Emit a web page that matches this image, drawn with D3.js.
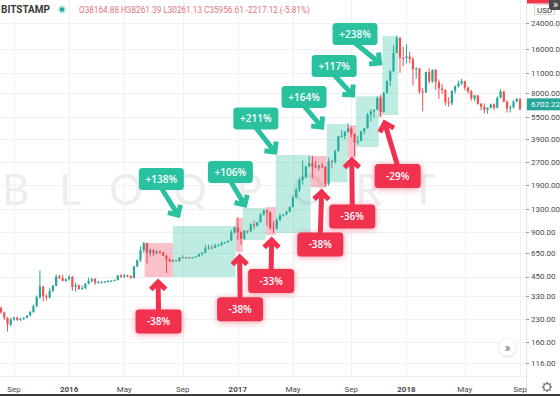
<!DOCTYPE html>
<html>
<head>
<meta charset="utf-8">
<script src="https://cdn.jsdelivr.net/npm/d3@7"></script>
<style>
  html, body { margin: 0; padding: 0; background: #fff; }
  svg { display: block; font-family: Roboto, "Open Sans", sans-serif; }
</style>
</head>
<body>
<svg id="chart" width="560" height="396"></svg>
<script>
// weekly BTC candles (Bitstamp), first bar = week of 2015-08-10
const firstWeek = "2015-08-10";
const opens = [275,256,236,212,230,236,228,232,236,244,258,282,325,385,330,325,360,390,450,440,
  420,432,448,382,392,370,375,403,420,434,410,412,414,416,420,421,426,458,449,460,
  455,441,528,580,680,760,655,680,650,665,655,625,590,570,580,574,608,607,609,601,
  608,617,640,655,700,710,705,732,735,765,772,790,900,970,900,815,922,915,1020,995,
  1055,1190,1270,1230,970,960,1090,1170,1190,1245,1340,1550,1750,2050,2150,2540,2660,2530,2500,2560,
  2510,1930,2750,2720,3220,4060,4090,4370,4580,4220,3690,3780,4390,4600,5700,6000,6140,7400,5950,8030,
  9700,11250,15000,19050,13900,13850,14200,13600,11600,11750,8200,8100,11100,9600,11500,9500,8600,8400,6900,6800,
  8300,8900,9300,9650,8700,8200,7350,7700,6750,6450,6150,6350,6700,6350,7400,8200,7000,6300,6400,7000,
  7300];
const highs = [282,260,238,236,240,240,236,238,246,262,290,335,495,390,342,375,395,465,465,462,
  438,460,455,410,398,392,405,442,440,440,422,420,420,425,425,430,462,468,466,464,
  458,532,590,720,775,765,700,690,680,680,665,630,600,590,588,610,630,612,612,610,
  620,645,660,740,740,740,752,750,780,776,792,935,990,1140,920,935,930,1040,1080,1060,
  1210,1290,1290,1250,1070,1130,1210,1200,1260,1350,1620,1800,2100,2780,2560,2980,3000,2770,2600,2660,
  2540,2900,2810,3300,4100,4480,4400,4980,4700,4250,4100,4400,4620,5850,6200,6200,7600,7780,8100,9700,
  11400,16900,19700,19200,16500,17200,15300,14100,12000,11900,8650,11200,11800,11600,11700,9900,9200,8500,7500,8300,
  9000,9750,9990,9700,8900,8400,7800,7770,6850,6800,6400,6800,6800,7600,8500,8300,7150,6600,7150,7400,
  7400];
const lows = [252,228,190,206,226,224,224,228,234,242,255,280,318,305,310,318,352,385,432,418,
  415,424,360,355,365,365,370,398,412,395,404,405,408,410,415,418,424,440,440,445,
  435,438,520,565,655,550,615,620,640,645,620,475,565,565,570,568,600,600,592,598,
  605,615,625,650,685,690,700,724,730,752,765,785,880,800,740,800,880,910,940,985,
  1050,1170,1000,940,890,930,1080,1150,1180,1240,1330,1545,1690,1900,2100,2500,2100,2450,2380,2460,
  1840,1870,2450,2650,3200,3990,3870,4300,4000,2970,3570,3770,4200,4600,5100,5400,6120,5550,5870,7900,
  8900,11150,15000,11000,12200,12750,12800,9000,10000,7900,6000,8000,9300,9400,8400,7300,7900,6600,6450,6600,
  7900,8700,9100,8330,7900,7100,7030,6650,6100,5800,5780,6300,6100,6300,7400,6900,5900,5900,6300,6900,
  6100];
const closes = [256,236,212,230,236,228,232,236,244,258,282,325,385,330,325,360,390,450,440,420,
  432,448,382,392,370,375,403,420,434,410,412,414,416,420,421,426,458,449,460,455,
  441,528,580,680,760,655,680,650,665,655,625,590,570,580,574,608,607,609,601,608,
  617,640,655,700,710,705,732,735,765,772,790,900,970,900,815,922,915,1020,995,1055,
  1190,1270,1230,970,960,1090,1170,1190,1245,1340,1550,1750,2050,2150,2540,2660,2530,2500,2560,2510,
  1930,2750,2720,3220,4060,4090,4370,4580,4220,3690,3780,4390,4600,5700,6000,6140,7400,5950,8030,9700,
  11250,15000,19050,13900,13850,14200,13600,11600,11750,8200,8100,11100,9600,11500,9500,8600,8400,6900,6800,8300,
  8900,9300,9650,8700,8200,7350,7700,6750,6450,6150,6350,6700,6350,7400,8200,7000,6300,6400,7000,7300,
  6250];
const lastPrice = 6702.22;

// price axis and time axis
const priceTicks = [116, 160, 230, 330, 450, 650, 900, 1300, 1900, 2700, 3900, 5500, 8000, 11000, 16000, 24000];
const tickMonths = ["2015-09-01","2016-01-01","2016-05-01","2016-09-01","2017-01-01","2017-05-01","2017-09-01","2018-01-01","2018-05-01","2018-09-01"];
const tickLabels = ["Sep","2016","May","Sep","2017","May","Sep","2018","May","Sep"];

// shaded rallies and pullbacks
const riseZones = [
  {from: "2016-08-15", to: "2016-12-28", low: 447, high: 994},
  {from: "2017-01-13", to: "2017-03-03", low: 798, high: 1318},
  {from: "2017-03-25", to: "2017-06-08", low: 890, high: 3025},
  {from: "2017-07-13", to: "2017-08-27", low: 1973, high: 4920},
  {from: "2017-09-14", to: "2017-11-02", low: 3430, high: 7600},
  {from: "2017-11-10", to: "2017-12-14", low: 5670, high: 19540}
];
const dropZones = [
  {from: "2016-06-15", to: "2016-08-15", low: 447, high: 762},
  {from: "2016-12-28", to: "2017-01-13", low: 661, high: 1127},
  {from: "2017-03-03", to: "2017-03-25", low: 863, high: 1339},
  {from: "2017-06-08", to: "2017-07-13", low: 1823, high: 2980},
  {from: "2017-08-27", to: "2017-09-14", low: 2890, high: 4845},
  {from: "2017-11-02", to: "2017-11-10", low: 5480, high: 7600}
];
// callouts: box centre and arrow tip, both in (date, price)
const riseLabels = [
  {text: "+138%", box: ["2016-07-21", 2078], tip: ["2016-08-26", 1181]},
  {text: "+106%", box: ["2016-12-17", 2319], tip: ["2017-01-17", 1382]},
  {text: "+211%", box: ["2017-02-10", 5366], tip: ["2017-03-23", 3175]},
  {text: "+164%", box: ["2017-05-25", 7519], tip: ["2017-07-02", 4697]},
  {text: "+117%", box: ["2017-07-29", 12226], tip: ["2017-09-07", 7757]},
  {text: "+238%", box: ["2017-09-12", 20200], tip: ["2017-11-04", 12815]}
];
const dropLabels = [
  {text: "-38%", box: ["2016-07-15", 222], tip: ["2016-07-14", 413]},
  {text: "-38%", box: ["2017-01-07", 270], tip: ["2017-01-06", 611]},
  {text: "-33%", box: ["2017-03-15", 419], tip: ["2017-03-16", 798]},
  {text: "-38%", box: ["2017-06-29", 743], tip: ["2017-07-02", 1695]},
  {text: "-36%", box: ["2017-09-06", 1154], tip: ["2017-09-05", 2800]},
  {text: "-29%", box: ["2017-12-13", 2178], tip: ["2017-11-15", 5001]}
];

const UP = "#26a69a", DOWN = "#ef5350";
const RISE = "#29c19f", DROP = "#f0314f";
const plotRight = 526, plotBottom = 376;

const parse = d3.timeParse("%Y-%m-%d");
const weeks = d3.range(opens.length).map(i => d3.timeDay.offset(parse(firstWeek), 7 * i));

const x = d3.scaleTime()
  .domain([weeks[0], weeks[weeks.length - 1]])
  .range([1, 520]);
const y = d3.scaleLog()
  .domain([116, 24000])
  .range([363, 23]);

const svg = d3.select("#chart");

const defs = svg.append("defs");
defs.append("clipPath").attr("id", "plot")
  .append("rect").attr("width", plotRight).attr("height", plotBottom);
defs.append("filter").attr("id", "glow")
  .attr("x", "-60%").attr("y", "-60%").attr("width", "220%").attr("height", "220%")
  .append("feDropShadow")
  .attr("dx", 0).attr("dy", 1).attr("stdDeviation", 3)
  .attr("flood-color", DROP).attr("flood-opacity", 0.5);
defs.append("filter").attr("id", "soft")
  .attr("x", "-60%").attr("y", "-60%").attr("width", "220%").attr("height", "220%")
  .append("feDropShadow")
  .attr("dx", 0).attr("dy", 0.5).attr("stdDeviation", 1.2)
  .attr("flood-color", "#000").attr("flood-opacity", 0.25);

svg.append("rect").attr("width", 560).attr("height", 396).attr("fill", "#fff");

// watermark
svg.append("text")
  .attr("x", 2).attr("y", 205)
  .attr("font-family", "Lato, 'Open Sans', sans-serif")
  .attr("font-size", 42)
  .attr("letter-spacing", 30)
  .attr("fill", "#ededed")
  .text("BLOQPORT");

// bar positions for the time ticks (first weekly bar of each month)
const tickX = tickMonths.map(m => x(weeks.find(w => w >= parse(m))));

const grid = svg.append("g");
grid.selectAll(".vg").data(tickX).enter().append("line")
  .attr("x1", d => Math.round(d) + 0.5).attr("x2", d => Math.round(d) + 0.5)
  .attr("y1", 0).attr("y2", plotBottom)
  .attr("stroke", "#f0f1f3");
grid.selectAll(".hg").data(priceTicks).enter().append("line")
  .attr("x1", 0).attr("x2", plotRight)
  .attr("y1", d => Math.round(y(d)) + 0.5).attr("y2", d => Math.round(y(d)) + 0.5)
  .attr("stroke", "#f0f1f3");

// candles
const plot = svg.append("g").attr("clip-path", "url(#plot)");
const bars = d3.range(opens.length);
plot.selectAll(".wick").data(bars).enter().append("rect")
  .attr("x", i => x(weeks[i]) - 0.5)
  .attr("width", 1)
  .attr("y", i => y(highs[i]))
  .attr("height", i => Math.max(1, y(lows[i]) - y(highs[i])))
  .attr("fill", i => closes[i] >= opens[i] ? UP : DOWN);
plot.selectAll(".body").data(bars).enter().append("rect")
  .attr("x", i => x(weeks[i]) - 1.1)
  .attr("width", 2.2)
  .attr("y", i => y(Math.max(opens[i], closes[i])))
  .attr("height", i => Math.max(1, Math.abs(y(opens[i]) - y(closes[i]))))
  .attr("fill", i => closes[i] >= opens[i] ? UP : DOWN);

// zones
function zones(list, color) {
  plot.append("g").selectAll("rect").data(list).enter().append("rect")
    .attr("x", d => x(parse(d.from)))
    .attr("width", d => x(parse(d.to)) - x(parse(d.from)))
    .attr("y", d => y(d.high))
    .attr("height", d => y(d.low) - y(d.high))
    .attr("fill", color)
    .attr("fill-opacity", 0.3);
}
zones(riseZones, RISE);
zones(dropZones, DROP);

// callouts
function arrowPath(x1, y1, x2, y2, wing) {
  const a = Math.atan2(y2 - y1, x2 - x1);
  const w1 = [x2 - wing * Math.cos(a - Math.PI / 4), y2 - wing * Math.sin(a - Math.PI / 4)];
  const w2 = [x2 - wing * Math.cos(a + Math.PI / 4), y2 - wing * Math.sin(a + Math.PI / 4)];
  return `M${x1},${y1}L${x2},${y2}M${w1[0]},${w1[1]}L${x2},${y2}L${w2[0]},${w2[1]}`;
}

function callouts(list, color, w, h, isDrop) {
  const g = svg.append("g").selectAll("g").data(list).enter().append("g");
  g.append("path")
    .attr("d", d => {
      const bx = x(parse(d.box[0])), by = y(d.box[1]);
      const tx = x(parse(d.tip[0])), ty = y(d.tip[1]);
      const sy = isDrop ? by - h / 2 + 2 : by + h / 2 - 2;
      return arrowPath(bx, sy, tx, ty, 10.5);
    })
    .attr("fill", "none")
    .attr("stroke", color)
    .attr("stroke-width", 5)
    .attr("stroke-linejoin", "miter");
  g.append("rect")
    .attr("x", d => x(parse(d.box[0])) - w / 2)
    .attr("y", d => y(d.box[1]) - h / 2)
    .attr("width", w).attr("height", h)
    .attr("rx", 3.5)
    .attr("fill", color)
    .attr("filter", isDrop ? "url(#glow)" : null);
  g.append("text")
    .attr("x", d => x(parse(d.box[0])))
    .attr("y", d => y(d.box[1]))
    .attr("dy", "0.36em")
    .attr("text-anchor", "middle")
    .attr("font-family", "'Open Sans', Lato, sans-serif")
    .attr("font-weight", 600)
    .attr("font-size", 10)
    .attr("fill", "#fff")
    .text(d => d.text);
}
callouts(riseLabels, RISE, 45, 22, false);
callouts(dropLabels, DROP, 46, 24, true);

// plot borders
svg.append("line").attr("x1", plotRight + 0.5).attr("x2", plotRight + 0.5)
  .attr("y1", 0).attr("y2", 396).attr("stroke", "#e3e4e8");
svg.append("line").attr("x1", 0).attr("x2", plotRight)
  .attr("y1", plotBottom + 0.5).attr("y2", plotBottom + 0.5).attr("stroke", "#eceef1");

// right price axis
const axisR = svg.append("g");
axisR.selectAll("line").data(priceTicks).enter().append("line")
  .attr("x1", plotRight).attr("x2", plotRight + 3)
  .attr("y1", d => Math.round(y(d)) + 0.5).attr("y2", d => Math.round(y(d)) + 0.5)
  .attr("stroke", "#9a9a9a");
axisR.selectAll("text").data(priceTicks).enter().append("text")
  .attr("x", 531)
  .attr("y", d => y(d))
  .attr("dy", "0.35em")
  .attr("font-size", 8)
  .attr("fill", "#4a4a4a")
  .text(d => d.toFixed(2));

// last price badge
const badgeY = y(lastPrice);
svg.append("rect")
  .attr("x", plotRight + 1).attr("y", badgeY - 6)
  .attr("width", 34).attr("height", 12)
  .attr("fill", UP);
svg.append("text")
  .attr("x", 531).attr("y", badgeY).attr("dy", "0.35em")
  .attr("font-size", 8).attr("fill", "#fff")
  .text(lastPrice.toFixed(2));

// bottom time axis
svg.append("g").selectAll("text").data(tickLabels).enter().append("text")
  .attr("x", (d, i) => tickX[i])
  .attr("y", 392)
  .attr("text-anchor", "middle")
  .attr("font-size", 8)
  .attr("font-weight", d => /^\d+$/.test(d) ? 700 : 400)
  .attr("fill", "#4a4a4a")
  .text(d => d);

svg.append("rect").attr("x", 0).attr("y", 394).attr("width", 560).attr("height", 2).attr("fill", "#3b3b3b");

// header
svg.append("text")
  .attr("x", 1).attr("y", 13)
  .attr("font-size", 10).attr("font-weight", 700)
  .attr("fill", "#3a3a3a")
  .text("BITSTAMP");
svg.append("circle").attr("cx", 62).attr("cy", 9.5).attr("r", 4.2).attr("fill", UP).attr("fill-opacity", 0.25);
svg.append("circle").attr("cx", 62).attr("cy", 9.5).attr("r", 2.3).attr("fill", UP);
svg.append("text")
  .attr("x", 79).attr("y", 13)
  .attr("font-size", 8.2)
  .attr("fill", "#e3737b")
  .text("O38164.88 H38261.39 L30261.13 C35956.61 -2217.12 (-5.81%)");

// top-right controls
svg.append("rect").attr("x", plotRight + 1).attr("y", 0).attr("width", 24).attr("height", 3.5).attr("fill", "#f23645");
svg.append("rect").attr("x", 534.5).attr("y", 4.5).attr("width", 20).attr("height", 10)
  .attr("fill", "#fff").attr("stroke", "#d6d6d6");
svg.append("text").attr("x", 537).attr("y", 12.5).attr("font-size", 8).attr("fill", "#333").text("USD");
svg.append("rect").attr("x", 549).attr("y", -4).attr("width", 15).attr("height", 14).attr("rx", 3).attr("fill", "#4a4a4a");
svg.append("text").attr("x", 555.5).attr("y", 7.5).attr("text-anchor", "middle")
  .attr("font-size", 11).attr("fill", "#fff").text("»");

// scroll button
svg.append("circle").attr("cx", 507.5).attr("cy", 347.5).attr("r", 8.5)
  .attr("fill", "#fff").attr("filter", "url(#soft)");
svg.append("text").attr("x", 507.5).attr("y", 351.5).attr("text-anchor", "middle")
  .attr("font-size", 12).attr("fill", "#555").text("»");

// settings gear
const gear = svg.append("g").attr("transform", "translate(547,387)")
  .attr("stroke", "#777").attr("fill", "none");
gear.append("circle").attr("r", 3.3).attr("stroke-width", 1.3);
gear.selectAll("line").data(d3.range(8)).enter().append("line")
  .attr("x1", a => 3.3 * Math.cos(a * Math.PI / 4)).attr("y1", a => 3.3 * Math.sin(a * Math.PI / 4))
  .attr("x2", a => 5 * Math.cos(a * Math.PI / 4)).attr("y2", a => 5 * Math.sin(a * Math.PI / 4))
  .attr("stroke-width", 1.6);
</script>
</body>
</html>
